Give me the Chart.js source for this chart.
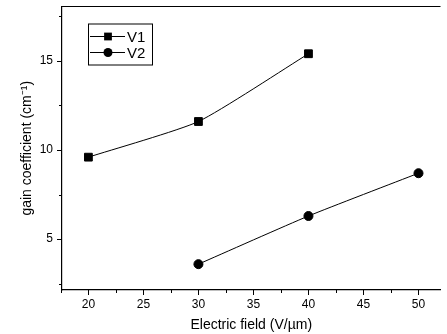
<!DOCTYPE html>
<html>
<head>
<meta charset="utf-8">
<script src="https://cdn.jsdelivr.net/npm/chart.js@4"></script>
<style>
  html, body { margin: 0; padding: 0; background: #fff; }
  #wrap { width: 447px; height: 334px; }
</style>
</head>
<body>
<div id="wrap"><canvas id="gain"></canvas></div>
<script>
// values
const seriesNames = ['V1', 'V2'];
const v1Field = [20, 30, 40];
const v1Gain = [9.6, 11.6, 15.4];
const v2Field = [30, 40, 50];
const v2Gain = [3.6, 6.3, 8.7];
const xTickLabels = [20, 25, 30, 35, 40, 45, 50];
const yTickLabels = [5, 10, 15];
const xMinor = [17.5, 22.5, 27.5, 32.5, 37.5, 42.5, 47.5];
const yMinor = [2.5, 7.5, 12.5, 17.5];

const font = 'Liberation Sans, Arial, sans-serif';

function pairs(xs, ys) {
  return xs.map((x, i) => ({ x: x, y: ys[i] }));
}

// tick marks outside the axes + top frame line
const frame = {
  id: 'frame',
  afterDraw(chart) {
    const ctx = chart.ctx;
    const a = chart.chartArea;
    const xs = chart.scales.x, ys = chart.scales.y;
    ctx.save();
    ctx.strokeStyle = '#000';
    ctx.lineWidth = 1.2;
    ctx.beginPath();
    ctx.moveTo(a.left, a.top);
    ctx.lineTo(a.right, a.top);
    ctx.stroke();
    ctx.lineWidth = 1;
    ctx.beginPath();
    xTickLabels.forEach(v => {
      const p = Math.round(xs.getPixelForValue(v)) + 0.5;
      ctx.moveTo(p, a.bottom); ctx.lineTo(p, a.bottom + 5);
    });
    xMinor.forEach(v => {
      const p = Math.round(xs.getPixelForValue(v)) + 0.5;
      ctx.moveTo(p, a.bottom); ctx.lineTo(p, a.bottom + 3);
    });
    yTickLabels.forEach(v => {
      const p = Math.round(ys.getPixelForValue(v)) + 0.5;
      ctx.moveTo(a.left, p); ctx.lineTo(a.left - 5, p);
    });
    yMinor.forEach(v => {
      const p = Math.round(ys.getPixelForValue(v)) + 0.5;
      ctx.moveTo(a.left, p); ctx.lineTo(a.left - 3, p);
    });
    ctx.stroke();
    ctx.restore();
  }
};

// boxed legend in the upper left corner
const boxLegend = {
  id: 'boxLegend',
  afterDraw(chart) {
    const ctx = chart.ctx;
    const a = chart.chartArea;
    const x0 = a.left + 26, y0 = a.top + 17;
    const w = 64, h = 41;
    ctx.save();
    ctx.strokeStyle = '#000';
    ctx.lineWidth = 1;
    ctx.strokeRect(x0 + 0.5, y0 + 0.5, w, h);
    chart.data.datasets.forEach((ds, i) => {
      const yy = y0 + 13 + i * 16;
      ctx.beginPath();
      ctx.moveTo(x0 + 2, yy);
      ctx.lineTo(x0 + 37, yy);
      ctx.stroke();
      ctx.fillStyle = '#000';
      Chart.helpers.drawPoint(ctx, {
        pointStyle: ds.pointStyle, radius: ds.pointRadius, rotation: 0
      }, x0 + 20, yy);
      ctx.font = '15px ' + font;
      ctx.textBaseline = 'middle';
      ctx.fillText(ds.label, x0 + 39, yy + 1);
    });
    ctx.restore();
  }
};

new Chart(document.getElementById('gain'), {
  type: 'line',
  data: {
    datasets: [{
      label: seriesNames[0],
      data: pairs(v1Field, v1Gain),
      borderColor: '#000',
      backgroundColor: '#000',
      borderWidth: 1,
      pointStyle: 'rect',
      pointRadius: 5.5,
      tension: 0.18
    }, {
      label: seriesNames[1],
      data: pairs(v2Field, v2Gain),
      borderColor: '#000',
      backgroundColor: '#000',
      borderWidth: 1,
      pointStyle: 'circle',
      pointRadius: 4.5,
      tension: 0.18
    }]
  },
  options: {
    responsive: true,
    maintainAspectRatio: false,
    animation: false,
    layout: { padding: { top: 6, right: 0, left: 0, bottom: 0 } },
    plugins: {
      legend: { display: false },
      tooltip: { enabled: false }
    },
    scales: {
      x: {
        type: 'linear',
        min: 17.6,
        max: 52,
        afterBuildTicks: s => { s.ticks = xTickLabels.map(v => ({ value: v })); },
        afterFit: s => { s.height = 44; s.paddingLeft = 0; s.paddingRight = 0; },
        grid: { display: false, drawTicks: false },
        border: { color: '#000', width: 1.2 },
        ticks: { color: '#000', padding: 7, font: { family: font, size: 12 } },
        title: {
          display: true,
          text: 'Electric field (V/\u00b5m)',
          color: '#000',
          font: { family: font, size: 14 },
          padding: { top: 2, bottom: 0 }
        }
      },
      y: {
        type: 'linear',
        min: 2.15,
        max: 18.05,
        afterBuildTicks: s => { s.ticks = yTickLabels.map(v => ({ value: v })); },
        afterFit: s => { s.width = 62; s.paddingTop = 0; s.paddingBottom = 0; },
        grid: { display: false, drawTicks: false },
        border: { color: '#000', width: 1.2 },
        ticks: { color: '#000', padding: 9, font: { family: font, size: 12 } },
        title: {
          display: true,
          text: 'gain coefficient (cm\u207b\u00b9)',
          color: '#000',
          font: { family: font, size: 14 },
          padding: { top: 19, bottom: 0 }
        }
      }
    }
  },
  plugins: [frame, boxLegend]
});
</script>
</body>
</html>
